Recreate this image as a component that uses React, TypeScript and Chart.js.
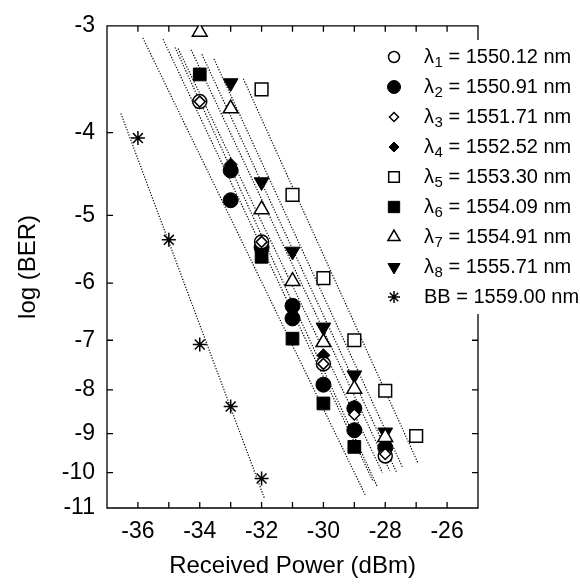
import React, { useEffect, useRef } from 'react';
import { Chart, registerables } from 'chart.js';
import { drawPoint } from 'chart.js/helpers';

Chart.register(...registerables);

const FONT = "'Liberation Sans', Arial, Helvetica, sans-serif";

// ---- axis ticks ----
const xMinorTicks = [-36, -35, -34, -33, -32, -31, -30, -29, -28, -27, -26];
const xLabelTicks = [-36, -34, -32, -30, -28, -26];
const yTickValues = [-3, -4, -5, -6, -7, -8, -9, -10, -11];

// ---- measured data: received power (dBm) and log(BER) ----
const pL1 = [-34, -32, -30, -28];
const bL1 = [-3.68, -5.37, -7.46, -9.56];

const pL2 = [-33, -33, -32, -31, -31, -30, -29, -29, -28];
const bL2 = [-4.43, -4.8, -5.45, -6.38, -6.6, -7.89, -8.41, -8.92, -9.35];

const pL3 = [-34, -32, -30, -29, -28];
const bL3 = [-3.68, -5.37, -7.46, -8.55, -9.51];

const pL4 = [-33, -32, -30, -29];
const bL4 = [-4.36, -5.41, -7.29, -8.37];

const pL5 = [-32, -31, -30, -29, -28, -27];
const bL5 = [-3.56, -4.73, -5.92, -7.0, -8.02, -9.06];

const pL6 = [-34, -32, -31, -30, -29];
const bL6 = [-3.42, -5.59, -6.97, -8.3, -9.33];

const pL7 = [-34, -33, -32, -31, -30, -29, -28];
const bL7 = [-3.05, -3.75, -4.92, -5.97, -7.04, -7.98, -9.09];

const pL8 = [-33, -32, -31, -30, -29, -28];
const bL8 = [-3.5, -4.57, -5.51, -6.76, -7.69, -8.97];

const pBB = [-36, -35, -34, -33, -32];
const bBB = [-4.06, -5.34, -7.08, -8.37, -10.16];

// ---- fitted (dotted) lines: start/end power and log(BER) ----
const fitX1 = [-36.55, -35.84, -35.19, -34.8, -34.7, -34.28, -33.93, -33.54, -32.59];
const fitY1 = [-3.8, -3.1, -3.11, -3.18, -3.19, -3.2, -3.24, -3.28, -3.46];
const fitX2 = [-31.91, -28.64, -28.41, -28.25, -28.09, -27.86, -27.63, -27.44, -26.95];
const fitY2 = [-10.71, -10.63, -10.21, -10.4, -10.0, -9.94, -10.0, -9.86, -9.73];

// ---- legend text ----
const legendNames = ['λ', 'λ', 'λ', 'λ', 'λ', 'λ', 'λ', 'λ', 'BB'];
const legendSubs = ['1', '2', '3', '4', '5', '6', '7', '8', ''];
const legendValues = ['1550.12', '1550.91', '1551.71', '1552.52', '1553.30', '1554.09', '1554.91', '1555.71', '1559.00'];

// ---- marker styles (same order as legend) ----
type Mk = { style: any; rot: number; r: number; lr: number; fill: string; bw: number; order: number };
const markers: Mk[] = [
  { style: 'circle', rot: 0, r: 7, lr: 5.5, fill: '#fff', bw: 1.5, order: 20 },
  { style: 'circle', rot: 0, r: 7.5, lr: 6.5, fill: '#000', bw: 1, order: 55 },
  { style: 'rectRot', rot: 0, r: 5.5, lr: 4.5, fill: '#fff', bw: 1.5, order: 10 },
  { style: 'rectRot', rot: 0, r: 6.5, lr: 5, fill: '#000', bw: 1, order: 50 },
  { style: 'rect', rot: 0, r: 9, lr: 7.5, fill: '#fff', bw: 1.5, order: 30 },
  { style: 'rect', rot: 0, r: 9, lr: 8, fill: '#000', bw: 1, order: 60 },
  { style: 'triangle', rot: 0, r: 8.5, lr: 7, fill: '#fff', bw: 1.5, order: 25 },
  { style: 'triangle', rot: 180, r: 8.5, lr: 7, fill: '#000', bw: 1, order: 45 },
  { style: 'star', rot: 0, r: 7, lr: 6, fill: '#000', bw: 1.5, order: 40 },
];

const seriesP = [pL1, pL2, pL3, pL4, pL5, pL6, pL7, pL8, pBB];
const seriesB = [bL1, bL2, bL3, bL4, bL5, bL6, bL7, bL8, bBB];

// plotted y = -log(BER) on a reversed log axis (BER "log(-log)" scale)
const toPoints = (xs: number[], ys: number[]) => xs.map((x, i) => ({ x, y: -ys[i] }));

const TICK = 6;

const framePlugin = {
  id: 'frameTicks',
  beforeDatasetsDraw(chart: any) {
    const { ctx, chartArea: a, scales } = chart;
    const xs = scales.x;
    const ys = scales.y;
    ctx.save();
    ctx.strokeStyle = '#000';
    ctx.lineWidth = 1.3;
    ctx.beginPath();
    ctx.rect(a.left, a.top, a.right - a.left, a.bottom - a.top);
    for (const v of xMinorTicks) {
      const px = xs.getPixelForValue(v);
      ctx.moveTo(px, a.bottom);
      ctx.lineTo(px, a.bottom - TICK);
      ctx.moveTo(px, a.top);
      ctx.lineTo(px, a.top + TICK);
    }
    for (const v of yTickValues.slice(1, -1)) {
      const py = ys.getPixelForValue(-v);
      ctx.moveTo(a.left, py);
      ctx.lineTo(a.left + TICK, py);
      ctx.moveTo(a.right, py);
      ctx.lineTo(a.right - TICK, py);
    }
    ctx.stroke();
    ctx.restore();
  },
};

const legendPlugin = {
  id: 'customLegend',
  afterDraw(chart: any) {
    const { ctx } = chart;
    const top = 57;
    const step = 30;
    const mx = 394;
    const tx = 424;
    ctx.save();
    ctx.fillStyle = '#fff';
    ctx.fillRect(383, top - 17, 580 - 383, step * 8 + 34);
    for (let i = 0; i < legendNames.length; i++) {
      const y = top + i * step;
      const m = markers[i];
      ctx.fillStyle = m.fill;
      ctx.strokeStyle = '#000';
      ctx.lineWidth = m.bw;
      drawPoint(ctx, { pointStyle: m.style, rotation: m.rot, radius: m.lr, borderWidth: m.bw }, mx, y);
      ctx.fillStyle = '#000';
      ctx.textBaseline = 'middle';
      ctx.textAlign = 'left';
      ctx.font = `20px ${FONT}`;
      let x = tx;
      ctx.fillText(legendNames[i], x, y);
      x += ctx.measureText(legendNames[i]).width;
      if (legendSubs[i]) {
        ctx.font = `15px ${FONT}`;
        ctx.fillText(legendSubs[i], x + 0.5, y + 6);
        x += ctx.measureText(legendSubs[i]).width + 0.5;
        ctx.font = `20px ${FONT}`;
      }
      ctx.fillText(` = ${legendValues[i]} nm`, x, y);
    }
    ctx.restore();
  },
};

export default function App() {
  const ref = useRef<HTMLCanvasElement | null>(null);

  useEffect(() => {
    if (!ref.current) return;
    Chart.defaults.font.family = FONT;
    const lineSets = fitX1.map((x1, i) => ({
      label: `fit${i}`,
      data: toPoints([x1, fitX2[i]], [fitY1[i], fitY2[i]]),
      showLine: true,
      borderColor: '#000',
      borderWidth: 1.2,
      borderDash: [1.2, 1.6],
      pointRadius: 0,
      order: 100,
    }));
    const markerSets = seriesP.map((xs, i) => ({
      label: `${legendNames[i]}${legendSubs[i]}`,
      data: toPoints(xs, seriesB[i]),
      showLine: false,
      pointStyle: markers[i].style,
      pointRotation: markers[i].rot,
      pointRadius: markers[i].r,
      pointBackgroundColor: markers[i].fill,
      pointBorderColor: '#000',
      pointBorderWidth: markers[i].bw,
      order: markers[i].order,
    }));

    const chart = new Chart(ref.current, {
      type: 'scatter',
      data: { datasets: [...lineSets, ...markerSets] as any },
      options: {
        animation: false,
        responsive: true,
        maintainAspectRatio: false,
        layout: { padding: { top: 19, right: 102, left: 0, bottom: 0 } },
        plugins: { legend: { display: false }, tooltip: { enabled: false } },
        scales: {
          x: {
            type: 'linear',
            min: -37,
            max: -25,
            grid: { display: false, drawTicks: false },
            border: { display: false },
            afterBuildTicks: (s: any) => {
              s.ticks = xLabelTicks.map((v) => ({ value: v }));
            },
            afterFit: (s: any) => {
              s.height = 77;
            },
            ticks: {
              color: '#000',
              font: { size: 23 },
              padding: 10,
              maxRotation: 0,
              autoSkip: false,
              callback: (v: any) => `${v}`,
            },
            title: {
              display: true,
              text: 'Received Power (dBm)',
              color: '#000',
              font: { size: 24 },
              padding: { top: 0, bottom: 4 },
            },
          },
          y: {
            type: 'logarithmic',
            reverse: true,
            min: 3,
            max: 11,
            bounds: 'data',
            grid: { display: false, drawTicks: false },
            border: { display: false },
            afterBuildTicks: (s: any) => {
              s.ticks = yTickValues.map((v) => ({ value: -v }));
            },
            afterFit: (s: any) => {
              s.width = 107;
            },
            ticks: {
              color: '#000',
              font: { size: 23 },
              padding: 12,
              autoSkip: false,
              callback: (v: any) => `${-Number(v)}`,
            },
            title: {
              display: true,
              text: 'log (BER)',
              color: '#000',
              font: { size: 24 },
              padding: { top: 14, bottom: 0 },
            },
          },
        },
      },
      plugins: [framePlugin, legendPlugin],
    });
    return () => chart.destroy();
  }, []);

  return (
    <div style={{ position: 'absolute', left: 0, top: 0, width: 580, height: 585, background: '#fff' }}>
      <canvas ref={ref} />
    </div>
  );
}
